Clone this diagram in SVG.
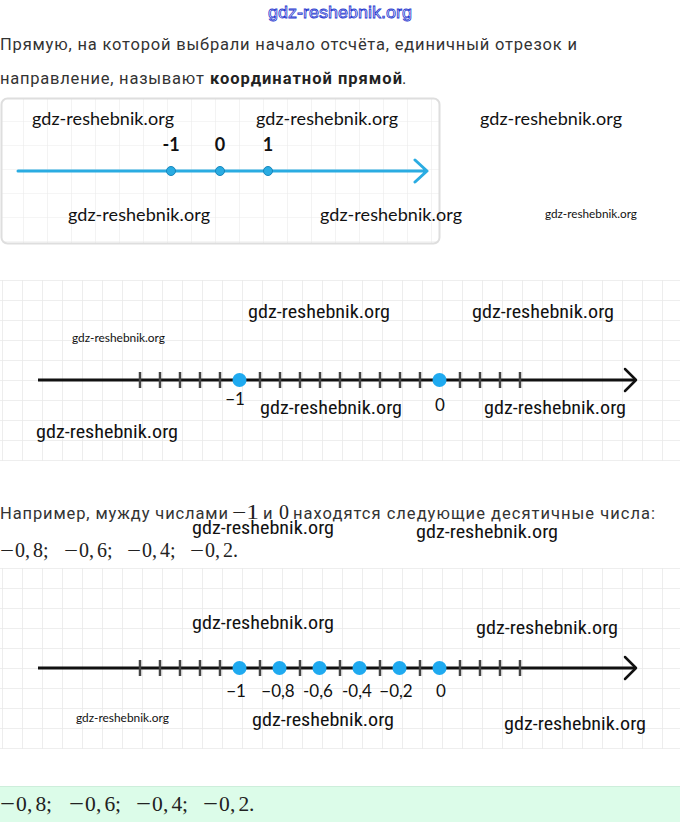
<svg xmlns="http://www.w3.org/2000/svg" width="680" height="822" viewBox="0 0 680 822">
<defs>
<style>
.p{font-family:Roboto,"Noto Sans",sans-serif;font-size:16.5px;fill:#333}
.b{font-weight:bold;fill:#222}
.m{font-family:"Liberation Serif","DejaVu Serif",serif;fill:#222}
.wl{font-family:Lato,"Open Sans",sans-serif;font-size:18px;fill:#111}
.wn{font-family:"Liberation Sans Narrow","Roboto Condensed",Lato,sans-serif;font-size:19px;fill:#111}
.ws{font-family:"Liberation Sans Narrow",Lato,sans-serif;font-size:11.5px;fill:#111}
.lab{font-family:Lato,"Open Sans",sans-serif;font-size:17px;fill:#111;text-anchor:middle}
.g1{stroke:#ebebeb;stroke-width:1.2;fill:none}
.g2{stroke:#e9e9e9;stroke-width:1.6;fill:none}
.axis{stroke:#111;stroke-width:3;fill:none}
.arr{stroke:#111;stroke-width:2.5;fill:none;stroke-linecap:round;stroke-linejoin:round}
.tick{stroke:#444;stroke-width:2.5}
.dot{fill:#1faaf0}
.bl{stroke:#2aace2;stroke-width:3;fill:none;stroke-linecap:round;stroke-linejoin:round}
.bdot{fill:#2aace2;stroke:#1787bd;stroke-width:1}
</style>
<pattern id="grid24" x="0" y="98" width="24" height="24" patternUnits="userSpaceOnUse">
<path d="M24 0V24M0 24H24" class="g1"/>
</pattern>
<pattern id="grid20a" x="2" y="280" width="20" height="20" patternUnits="userSpaceOnUse">
<path d="M0 0V20M0 0H20" class="g2"/>
</pattern>
<pattern id="grid20b" x="2" y="568" width="20" height="20" patternUnits="userSpaceOnUse">
<path d="M0 0V20M0 0H20" class="g2"/>
</pattern>
</defs>
<rect width="680" height="822" fill="#fff"/>

<g id="header">
<text x="268" y="18" textLength="144" lengthAdjust="spacingAndGlyphs" style="font-family:'Liberation Sans Narrow','Liberation Sans',sans-serif;font-size:17px;fill:#f4f6ff;stroke:#2a3ad0;stroke-width:0.8">gdz-reshebnik.org</text>
<text class="p" x="0" y="50" textLength="577">Прямую, на которой выбрали начало отсчёта, единичный отрезок и</text>
<text class="p" y="84"><tspan x="0" textLength="204">направление, называют</tspan><tspan class="b" x="210" textLength="192">координатной прямой</tspan><tspan x="402">.</tspan></text>
</g>

<g id="box1">
<rect x="1.5" y="98.5" width="438" height="145" rx="6" fill="url(#grid24)" stroke="#dedede" stroke-width="2"/>
<text class="wl" x="32" y="125" textLength="142">gdz-reshebnik.org</text>
<text class="wl" x="256" y="125" textLength="142">gdz-reshebnik.org</text>
<text class="wl" x="480" y="125" textLength="142">gdz-reshebnik.org</text>
<text class="wl" x="68" y="221" textLength="142">gdz-reshebnik.org</text>
<text class="wl" x="320" y="221" textLength="142">gdz-reshebnik.org</text>
<text class="ws" x="545" y="218" textLength="92" lengthAdjust="spacingAndGlyphs">gdz-reshebnik.org</text>
<path class="bl" d="M18 171H426M415 160L427 171L415 182"/>
<circle class="bdot" cx="171" cy="171" r="4.5"/>
<circle class="bdot" cx="220" cy="171" r="4.5"/>
<circle class="bdot" cx="268" cy="171" r="4.5"/>
<text class="lab" x="171" y="151" style="font-weight:bold;font-size:18px">-1</text>
<text class="lab" x="220" y="151" style="font-weight:bold;font-size:18px">0</text>
<text class="lab" x="268" y="151" style="font-weight:bold;font-size:18px">1</text>
</g>

<g id="line2">
<rect x="0" y="280" width="680" height="181" fill="url(#grid20a)"/>
<text class="wn" x="248" y="318" textLength="142" lengthAdjust="spacingAndGlyphs">gdz-reshebnik.org</text>
<text class="wn" x="472" y="318" textLength="142" lengthAdjust="spacingAndGlyphs">gdz-reshebnik.org</text>
<text class="ws" x="72" y="342" textLength="93" lengthAdjust="spacingAndGlyphs">gdz-reshebnik.org</text>
<text class="wn" x="260" y="414" textLength="142" lengthAdjust="spacingAndGlyphs">gdz-reshebnik.org</text>
<text class="wn" x="484" y="414" textLength="142" lengthAdjust="spacingAndGlyphs">gdz-reshebnik.org</text>
<text class="wn" x="36" y="438" textLength="142" lengthAdjust="spacingAndGlyphs">gdz-reshebnik.org</text>
<path class="axis" d="M38 380H635"/>
<path class="arr" d="M625 369L636 380L625 391"/>
<path class="tick" d="M140 372V388M160 372V388M180 372V388M200 372V388M220 372V388M260 372V388M280 372V388M300 372V388M320 372V388M340 372V388M360 372V388M380 372V388M400 372V388M420 372V388M460 372V388M480 372V388M500 372V388M520 372V388"/>
<circle class="dot" cx="239.5" cy="380" r="7"/>
<circle class="dot" cx="439.5" cy="380" r="7"/>
<text class="lab" x="235" y="405">−1</text>
<text class="lab" x="440" y="411">0</text>
</g>

<g id="example">
<text class="p" y="519"><tspan x="0" textLength="228">Например, мужду числами</tspan><tspan class="m" x="232" style="font-size:20px" textLength="27" lengthAdjust="spacingAndGlyphs">−1</tspan><tspan x="263">и</tspan><tspan class="m" x="279" style="font-size:20px">0</tspan><tspan x="293" textLength="362">находятся следующие десятичные числа:</tspan></text>
<text class="wn" x="192" y="534" textLength="142" lengthAdjust="spacingAndGlyphs">gdz-reshebnik.org</text>
<text class="wn" x="416" y="538" textLength="142" lengthAdjust="spacingAndGlyphs">gdz-reshebnik.org</text>
<text class="m" y="557" style="font-size:20px"><tspan x="0" textLength="14" lengthAdjust="spacingAndGlyphs">−</tspan><tspan x="15 25 33 43">0,8;</tspan><tspan x="64" textLength="14" lengthAdjust="spacingAndGlyphs">−</tspan><tspan x="79 89 97 107">0,6;</tspan><tspan x="127" textLength="14" lengthAdjust="spacingAndGlyphs">−</tspan><tspan x="142 152 160 170">0,4;</tspan><tspan x="190" textLength="14" lengthAdjust="spacingAndGlyphs">−</tspan><tspan x="205 215 223 233">0,2.</tspan></text>
</g>

<g id="line3">
<rect x="0" y="568" width="680" height="181" fill="url(#grid20b)"/>
<text class="wn" x="192" y="629" textLength="142" lengthAdjust="spacingAndGlyphs">gdz-reshebnik.org</text>
<text class="wn" x="476" y="634" textLength="142" lengthAdjust="spacingAndGlyphs">gdz-reshebnik.org</text>
<text class="ws" x="76" y="722" textLength="93" lengthAdjust="spacingAndGlyphs">gdz-reshebnik.org</text>
<text class="wn" x="252" y="726" textLength="142" lengthAdjust="spacingAndGlyphs">gdz-reshebnik.org</text>
<text class="wn" x="504" y="730" textLength="142" lengthAdjust="spacingAndGlyphs">gdz-reshebnik.org</text>
<path class="axis" d="M38 668H635"/>
<path class="arr" d="M625 657L636 668L625 679"/>
<path class="tick" d="M140 660V676M160 660V676M180 660V676M200 660V676M220 660V676M260 660V676M300 660V676M340 660V676M380 660V676M420 660V676M460 660V676M480 660V676M500 660V676M520 660V676"/>
<circle class="dot" cx="239.5" cy="668" r="7"/>
<circle class="dot" cx="279.5" cy="668" r="7"/>
<circle class="dot" cx="319.5" cy="668" r="7"/>
<circle class="dot" cx="359.5" cy="668" r="7"/>
<circle class="dot" cx="399.5" cy="668" r="7"/>
<circle class="dot" cx="439.5" cy="668" r="7"/>
<text class="lab" x="236" y="697">−1</text>
<text class="lab" x="278" y="697">−0,8</text>
<text class="lab" x="318" y="697">-0,6</text>
<text class="lab" x="357" y="697">-0,4</text>
<text class="lab" x="396" y="697">−0,2</text>
<text class="lab" x="441" y="697">0</text>
</g>

<g id="answer">
<rect x="0" y="786" width="680" height="36" fill="#dcfce9"/>
<line x1="0" y1="786.5" x2="680" y2="786.5" stroke="#cdeedb" stroke-width="1"/>
<text class="m" y="811" style="font-size:21.5px"><tspan x="0" textLength="15" lengthAdjust="spacingAndGlyphs">−</tspan><tspan x="16 27 35.5 46">0,8;</tspan><tspan x="69" textLength="15" lengthAdjust="spacingAndGlyphs">−</tspan><tspan x="85 96 104.5 115">0,6;</tspan><tspan x="136" textLength="15" lengthAdjust="spacingAndGlyphs">−</tspan><tspan x="152 163 171.5 182">0,4;</tspan><tspan x="203" textLength="15" lengthAdjust="spacingAndGlyphs">−</tspan><tspan x="219 230 238.5 249">0,2.</tspan></text>
</g>
</svg>
